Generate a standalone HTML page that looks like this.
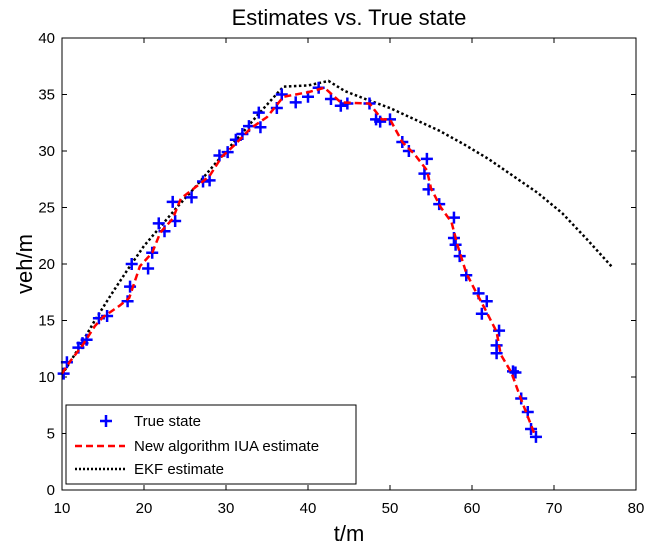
<!DOCTYPE html>
<html><head><meta charset="utf-8"><style>
body{margin:0;background:#fff;}
svg text{font-family:"Liberation Sans",sans-serif;}
</style></head><body>
<svg width="646" height="549" xmlns="http://www.w3.org/2000/svg">
<rect width="646" height="549" fill="#fff"/>
<text x="349" y="25" font-size="22" text-anchor="middle">Estimates vs. True state</text>
<g id="ticks"></g>
<g id="plot"></g>
<rect x="62" y="38" width="574" height="452" fill="none" stroke="#000" stroke-width="1"/>
<text x="349" y="541" font-size="22" text-anchor="middle">t/m</text>
<text x="0" y="0" font-size="22" text-anchor="middle" transform="translate(32,264) rotate(-90)">veh/m</text>
<g>
<rect x="66" y="405" width="290" height="79" fill="#fff" stroke="#000" stroke-width="1"/>
<text x="106" y="31" font-size="0"></text>
<path d="M100 421h12M106 415v12" stroke="#00f" stroke-width="2.5"/>
<text x="134" y="426" font-size="15">True state</text>
<line x1="75" y1="446" x2="125" y2="446" stroke="#f00" stroke-width="2.5" stroke-dasharray="7,4"/>
<text x="134" y="451" font-size="15">New algorithm IUA estimate</text>
<line x1="75" y1="469" x2="125" y2="469" stroke="#000" stroke-width="2.5" stroke-dasharray="2,2"/>
<text x="134" y="474" font-size="15">EKF estimate</text>
</g>
</svg>
<script>
const xTicks=[10,20,30,40,50,60,70,80];
const yTicks=[0,5,10,15,20,25,30,35,40];
const trueX=[10.2,10.6,12,12.5,13,14.5,15.5,18,18.3,18.5,20.5,21,21.8,22.5,23.5,23.8,25.8,27.2,28,29.2,30.2,31.2,32,32.8,34,34.2,36.2,36.8,38.5,40,41.3,42.8,44,44.8,47.5,48.3,48.8,50,51.5,52.3,54.5,54.2,54.7,56,57.8,57.8,58,58.5,59.3,60.8,61.8,61.2,63.3,63,63,65,65.3,66,66.8,67.2,67.8];
const trueY=[10.3,11.3,12.6,13,13.3,15.2,15.4,16.7,18,20,19.6,21,23.6,22.9,25.5,23.8,25.9,27.3,27.4,29.6,29.9,31,31.5,32.2,33.4,32.1,33.8,35,34.3,34.8,35.6,34.6,34,34.2,34.2,32.8,32.6,32.8,30.8,30,29.3,28,26.6,25.3,24.1,22.3,21.7,20.7,19,17.4,16.7,15.6,14.1,12.8,12.1,10.5,10.4,8.1,6.9,5.4,4.7];
const iuaX=[10,11,12.5,14,15,17,18.2,19.5,21,22,23.5,24.5,27,28,29.5,31,33,35,37,40,42,44,47.5,49,50,51.5,53,54.5,55,56.2,57.5,58.3,59.3,60.5,61.6,63,63.5,64.8,66,66.8,67.6];
const iuaY=[10.3,11.4,12.8,14.5,15.3,16.3,17,19.8,21,22.8,24,25.8,27.2,27.8,29.5,30.5,32,33,34.8,35.2,35.6,34.3,34.2,32.8,32.8,30.8,29.7,28.3,26.7,25,23.7,21.5,19.2,17.5,16,14,12,10.4,8,6.5,5];
const ekfX=[10,12,14,16,18,20,22,24,26,28,30,32,34,35.5,37,40,42.5,44.5,47,50,53,56,59,62,65,68,71,74,77];
const ekfY=[10.2,12.5,15,17.3,19.5,21.6,23.3,25,26.6,28.3,30,31.6,33.3,34.5,35.7,35.8,36.2,35.3,34.6,33.8,32.8,31.8,30.6,29.3,27.8,26.3,24.5,22.2,19.8];
const NS="http://www.w3.org/2000/svg";
const sx=v=>62+(v-10)*574/70, sy=v=>490-v*452/40;
const tg=document.getElementById('ticks'), pg=document.getElementById('plot');
function mk(tag,attrs,parent){const e=document.createElementNS(NS,tag);for(const k in attrs)e.setAttribute(k,attrs[k]);parent.appendChild(e);return e;}
xTicks.forEach(t=>{
 const x=sx(t);
 const l=mk('path',{d:`M${x} 490v-5M${x} 38v5`,stroke:'#000'},tg);
 
 
 const tx=mk('text',{x:x,y:513,'font-size':15,'text-anchor':'middle'},tg);tx.textContent=t;
 
 
});
yTicks.forEach(t=>{
 const y=sy(t);
 const l=mk('path',{d:`M62 ${y}h5M636 ${y}h-5`,stroke:'#000'},tg);
 
 
 const tx=mk('text',{x:55,y:y+5,'font-size':15,'text-anchor':'end'},tg);tx.textContent=t;
 
 
});
const ekf=mk('polyline',{points:ekfX.map((v,i)=>sx(v)+','+sy(ekfY[i])).join(' '),fill:'none',stroke:'#000','stroke-width':2.5,'stroke-dasharray':'2.5,2.5'},pg);


trueX.forEach((v,i)=>{
 const x=sx(v),y=sy(trueY[i]);
 const p=mk('path',{d:`M${x-6} ${y}h12M${x} ${y-6}v12`,stroke:'#00f','stroke-width':2.5},pg);
 
 
});
const iua=mk('polyline',{points:iuaX.map((v,i)=>sx(v)+','+sy(iuaY[i])).join(' '),fill:'none',stroke:'#f00','stroke-width':2.5,'stroke-dasharray':'7,4'},pg);


</script>
</body></html>
